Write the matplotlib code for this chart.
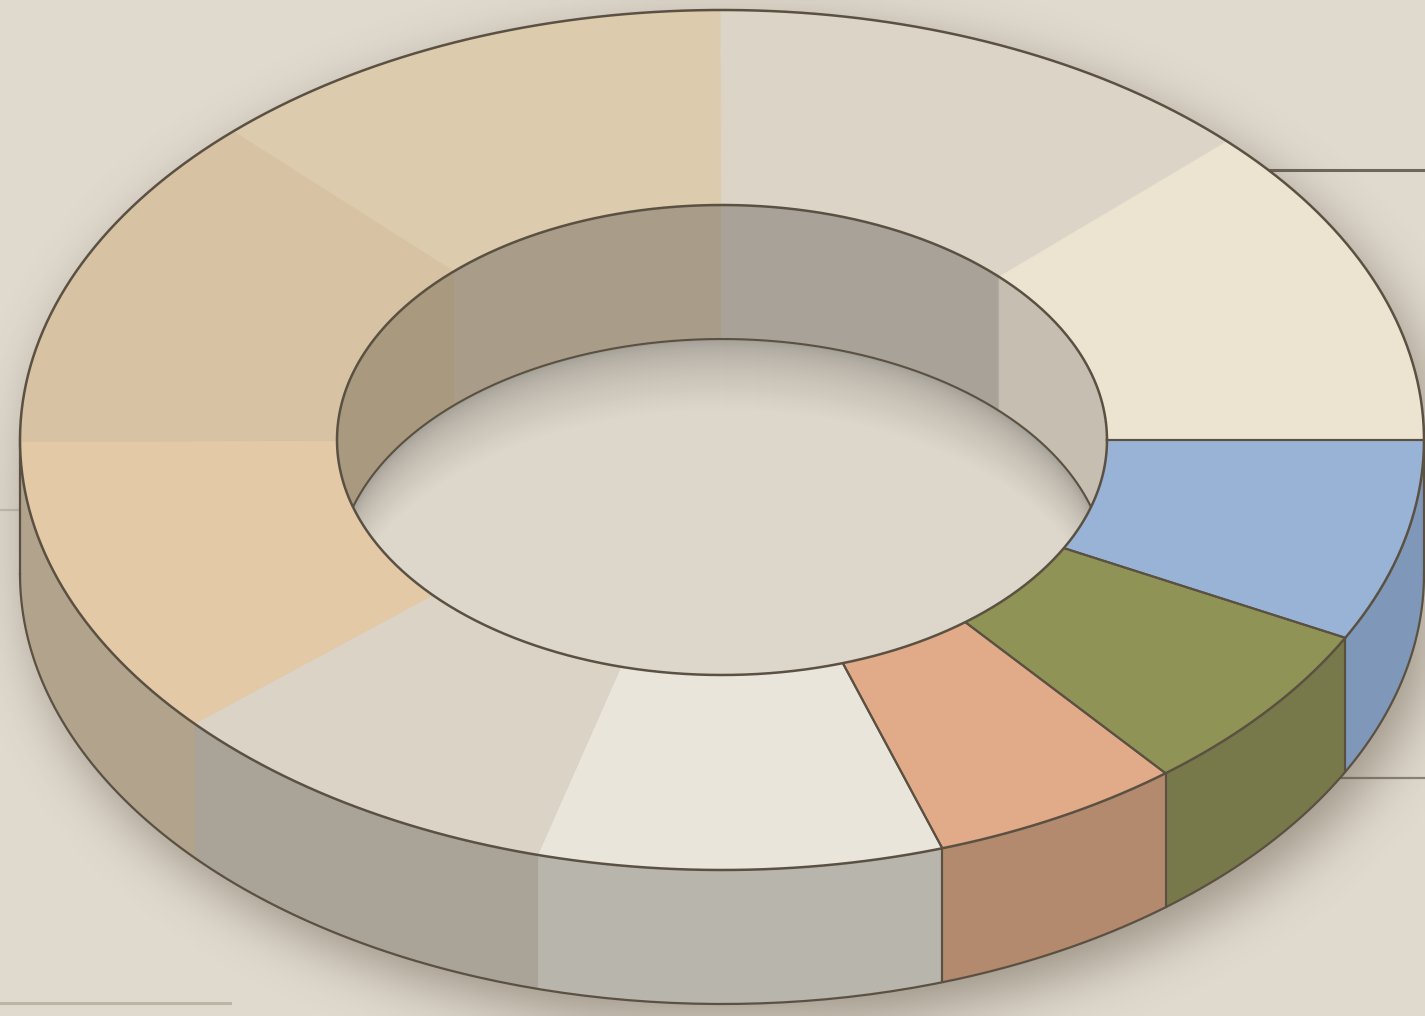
import numpy as np
import matplotlib
matplotlib.use("Agg")
import matplotlib.pyplot as plt
from matplotlib.patches import Polygon
from matplotlib.lines import Line2D

# ---------------- data ----------------
segments = ["Blue", "Olive", "Salmon", "Off-white", "Light gray",
            "Peach", "Tan", "Light tan", "Gray-beige", "Cream"]
values = [7.6, 6.5, 5.8, 9.3, 9.3, 11.4, 12.8, 12.2, 12.8, 12.2]
top_colors = ["#98b3d5", "#8f9355", "#e1aa89", "#e9e5da", "#dad3c6",
              "#e4c9a6", "#d7c3a3", "#dccbad", "#dcd4c6", "#ece4d1"]
side_colors = ["#7f98ba", "#78794a", "#b38a6e", "#b8b5ac", "#aaa398",
               "#b1a38c", "#b0a28a", "#b0a390", "#aba49a", "#c0b8aa"]
wall_colors = ["#7f98ba", "#78794a", "#b38a6e", "#b8b5ac", "#aaa398",
               "#b1a38c", "#a8997f", "#a99c88", "#a9a299", "#c6beb0"]
highlighted = [True, True, True, False, False, False, False, False, False, False]

# ---------------- layout ----------------
W, H = 1425, 1016
BG = "#e0d9cd"
EDGE = "#5b5142"
cx, cy = 722, 440
Rx, Ry = 702, 430
rx, ry = 385, 235
depth = 134

fig = plt.figure(figsize=(W / 100, H / 100), dpi=100)
fig.patch.set_facecolor(BG)
ax = fig.add_axes([0, 0, 1, 1])
ax.set_facecolor(BG)
ax.axis("off")


def arc(a, b, ax_, ay_, dy=0.0, n=200):
    t = np.radians(np.linspace(a, b, n))
    return np.column_stack([cx + ax_ * np.cos(t), cy + dy + ay_ * np.sin(t)])


# decorative background lines
ax.plot([1200, W], [170, 170], color="#6e675b", lw=2.2, zorder=0.5)
ax.plot([1300, W], [778, 778], color="#8a8376", lw=1.6, zorder=0.5)
ax.plot([0, 120], [510, 510], color="#c4bdb1", lw=1.6, zorder=0.5)
ax.plot([0, 230], [1003, 1003], color="#bcb4a4", lw=2.2, zorder=0.5)

# ---------------- soft drop shadow ----------------
s = 4
gx = np.arange(0, W, s) + s / 2
gy = np.arange(0, H, s) + s / 2
X, Y = np.meshgrid(gx, gy)
ox, oy = 14, 20
Xs, Ys = X - ox, Y - oy
m_top = ((Xs - cx) / Rx) ** 2 + ((Ys - cy) / Ry) ** 2 <= 1
m_bot = ((Xs - cx) / Rx) ** 2 + ((Ys - cy - depth) / Ry) ** 2 <= 1
m_mid = (np.abs(Xs - cx) <= Rx) & (Ys >= cy) & (Ys <= cy + depth)
mask = (m_top | m_bot | m_mid).astype(float)
sig = 7.0
k = np.arange(-3 * int(sig), 3 * int(sig) + 1)
kern = np.exp(-0.5 * (k / sig) ** 2)
kern /= kern.sum()
pad = len(k)
mp = np.pad(mask, pad, mode="constant")
mp = np.apply_along_axis(lambda r: np.convolve(r, kern, mode="same"), 1, mp)
mp = np.apply_along_axis(lambda c: np.convolve(c, kern, mode="same"), 0, mp)
blur = mp[pad:-pad, pad:-pad]
rgba = np.zeros(blur.shape + (4,))
rgba[..., 0] = 70 / 255
rgba[..., 1] = 60 / 255
rgba[..., 2] = 45 / 255
rgba[..., 3] = blur * 0.45
ax.imshow(rgba, extent=(0, W, H, 0), interpolation="bilinear", aspect="auto", zorder=1)

# ---------------- angles ----------------
vals = np.array(values, dtype=float)
cum = np.concatenate([[0], np.cumsum(vals)]) / vals.sum() * 360.0
starts, ends = cum[:-1], cum[1:]

# ---------------- outer side walls (front half) ----------------
for i in range(len(values)):
    lo, hi = max(starts[i], 0), min(ends[i], 180)
    if lo >= hi:
        continue
    topa = arc(lo, hi, Rx, Ry)
    bota = arc(hi, lo, Rx, Ry, dy=depth)
    ax.add_patch(Polygon(np.vstack([topa, bota]), closed=True,
                         facecolor=side_colors[i], edgecolor=side_colors[i],
                         lw=0.6, zorder=2))
# vertical edges at highlighted boundaries
for i in range(len(values)):
    for ang, nb in ((starts[i], i - 1), (ends[i], i + 1)):
        nb %= len(values)
        if 0 < ang < 180 and (highlighted[i] or highlighted[nb]):
            t = np.radians(ang)
            x = cx + Rx * np.cos(t)
            y = cy + Ry * np.sin(t)
            ax.plot([x, x], [y, y + depth], color=EDGE, lw=1.5, zorder=3)
b = arc(0, 180, Rx, Ry, dy=depth)
ax.plot(b[:, 0], b[:, 1], color=EDGE, lw=1.6, zorder=3)
for ang in (0, 180):
    t = np.radians(ang)
    x = cx + Rx * np.cos(t)
    ax.plot([x, x], [cy, cy + depth], color=EDGE, lw=1.6, zorder=3)

# ---------------- top face ----------------
for i in range(len(values)):
    o = arc(starts[i], ends[i], Rx, Ry)
    inn = arc(ends[i], starts[i], rx, ry)
    ax.add_patch(Polygon(np.vstack([o, inn]), closed=True,
                         facecolor=top_colors[i], edgecolor=top_colors[i],
                         lw=0.6, zorder=4))
for i in range(len(values)):
    nb = (i - 1) % len(values)
    if highlighted[i] or highlighted[nb]:
        t = np.radians(starts[i])
        ax.plot([cx + rx * np.cos(t), cx + Rx * np.cos(t)],
                [cy + ry * np.sin(t), cy + Ry * np.sin(t)],
                color=EDGE, lw=1.5, zorder=5)
    if i == len(values) - 1 or highlighted[i]:
        t = np.radians(ends[i])
        ax.plot([cx + rx * np.cos(t), cx + Rx * np.cos(t)],
                [cy + ry * np.sin(t), cy + Ry * np.sin(t)],
                color=EDGE, lw=1.5, zorder=5)
oe = arc(0, 360, Rx, Ry, n=600)
ax.plot(oe[:, 0], oe[:, 1], color=EDGE, lw=1.8, zorder=6)

# ---------------- hole: inner wall and floor ----------------
ie = arc(0, 360, rx, ry, n=600)
clip = Polygon(ie, closed=True, transform=ax.transData)
for i in range(len(values)):
    lo, hi = max(starts[i], 180), min(ends[i], 360)
    if lo >= hi:
        continue
    topa = arc(lo, hi, rx, ry)
    bota = arc(hi, lo, rx, ry, dy=depth)
    p = Polygon(np.vstack([topa, bota]), closed=True, facecolor=wall_colors[i],
                edgecolor=wall_colors[i], lw=0.6, zorder=7)
    ax.add_patch(p)
    p.set_clip_path(clip)

dark = np.array(matplotlib.colors.to_rgb("#a39e95"))
light = np.array(matplotlib.colors.to_rgb("#ddd6ca"))
shifts = np.linspace(0, 70, 36)
for kk, sh in enumerate(shifts):
    f = (sh / shifts[-1]) ** 0.6
    col = dark * (1 - f) + light * f
    fl = arc(0, 360, rx, ry, dy=depth + sh, n=400)
    p = Polygon(fl, closed=True, facecolor=col, edgecolor="none", zorder=8)
    ax.add_patch(p)
    p.set_clip_path(clip)
fe = arc(180, 360, rx, ry, dy=depth, n=400)
ln = Line2D(fe[:, 0], fe[:, 1], color=EDGE, lw=1.5, zorder=9)
ax.add_line(ln)
ln.set_clip_path(clip)
ax.plot(ie[:, 0], ie[:, 1], color=EDGE, lw=1.8, zorder=10)

ax.set_xlim(0, W)
ax.set_ylim(H, 0)
fig.savefig("out.png", dpi=100, facecolor=BG)
